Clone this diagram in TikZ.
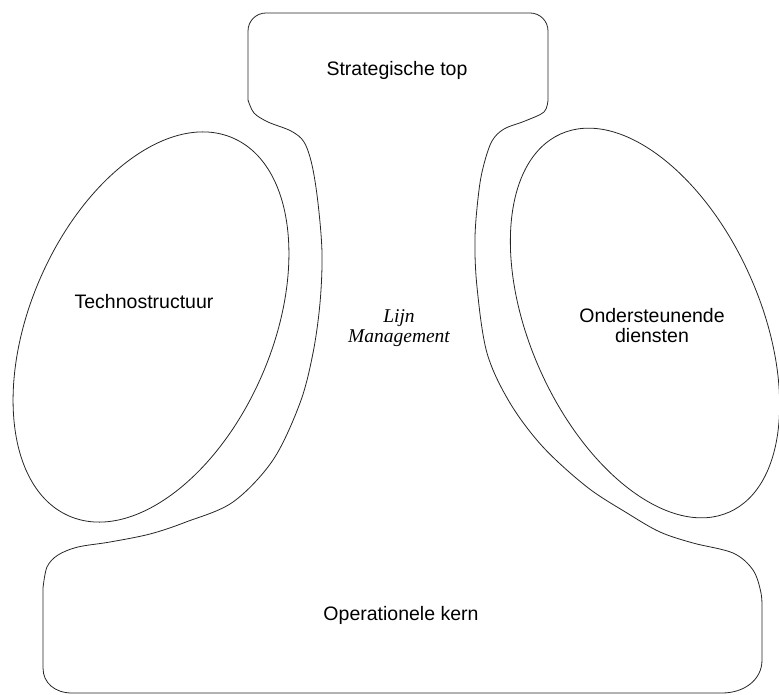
\documentclass[tikz,border=0pt]{standalone}
\usepackage{fontspec}
\setmainfont{Liberation Sans}
\newfontfamily\mgmtfont{Liberation Serif}
\begin{document}
\begin{tikzpicture}[x=1pt,y=-1pt,
    outline/.style={draw=black!85,line width=0.8pt,line join=round},
    label/.style={font=\fontsize{19.5}{20}\selectfont,align=center,inner sep=0pt},
    italiclabel/.style={font=\fontsize{19.5}{20}\selectfont\mgmtfont\itshape,align=center,inner sep=0pt}]
  \useasboundingbox (0,0) rectangle (779,695);

  % outer contour: strategic apex, middle line and operating core as one shape
  \path[outline]
    (248,100) -- (248,31) .. controls (248,21) and (256,13) .. (266,13)
    -- (530,13) .. controls (540,13) and (548,21) .. (548,31)
    -- (548,100)
    -- plot[smooth,tension=0.55] coordinates {(548,100) (544,112) (525,121) (504,129) (492,141)
        (484,164) (479,190) (475,237) (477,287) (487,353) (510,403) (543,447) (587,487)
        (627,513) (660,532) (693,543) (733,553) (753,570) (761,593) (762,612)}
    -- (762,660) .. controls (762,680) and (744,693) .. (722,693)
    -- (72,693) .. controls (55,693) and (43,683) .. (43,668)
    -- (43,588)
    -- plot[smooth,tension=0.55] coordinates {(43,588) (47,567) (58,555) (78,547) (110,542)
        (150,534) (186,522) (233,502) (273,460) (300,403) (313,353) (320,303) (322,253)
        (318,203) (312,165) (304,142) (291,131) (268,122) (254,113) (248,100)}
    -- cycle;

  % support staff ellipses
  \draw[outline,rotate around={-23.4:(151,327)}] (151,327) ellipse [x radius=121,y radius=206];
  \draw[outline,rotate around={24:(645,323)}] (645,323) ellipse [x radius=115,y radius=207];

  % labels (base anchor sits on the last line of a two-line label)
  \node[label,anchor=base] (top) at (397,76) {Strategische top};
  \node[label,anchor=base] (techno) at (144,308) {Technostructuur};
  \node[label,anchor=base] (support) at (652,342) {Ondersteunende\\diensten};
  \node[italiclabel,anchor=base] (line) at (399,342) {Lijn\\Management};
  \node[label,anchor=base] (core) at (401,620) {Operationele kern};
\end{tikzpicture}
\end{document}
